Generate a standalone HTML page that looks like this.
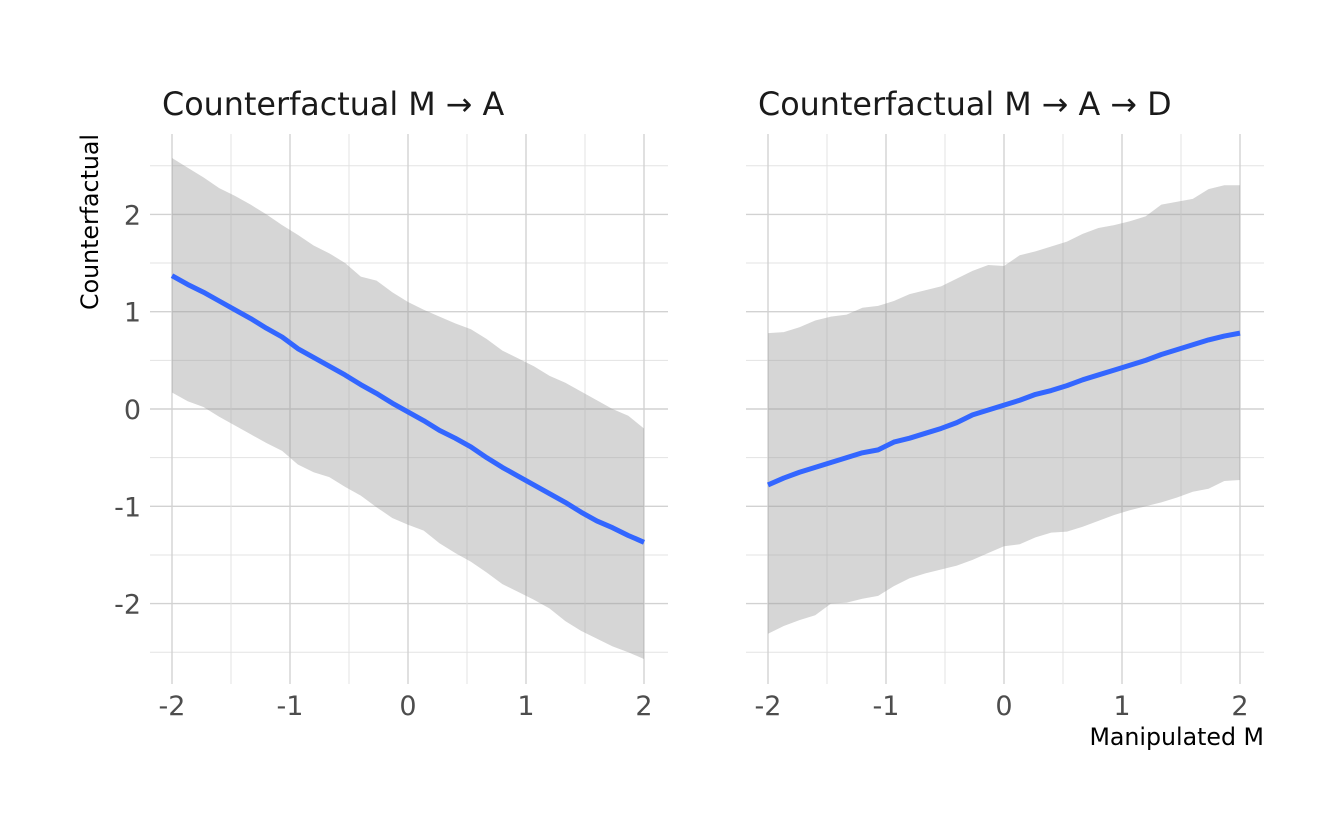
<!DOCTYPE html>
<html><head><meta charset="utf-8"><style>
body{margin:0;background:#fff;}
svg text{font-family:"DejaVu Sans","Liberation Sans",sans-serif;}
</style></head><body>
<svg id="chart" width="1344" height="830" xmlns="http://www.w3.org/2000/svg">
<rect width="1344" height="830" fill="#fff"/>
<g id="panels"></g>
<text x="162" y="115" font-size="31.8" fill="#1a1a1a">Counterfactual M → A</text>
<text x="758" y="115" font-size="31.8" fill="#1a1a1a">Counterfactual M → A → D</text>
<text transform="translate(98,222) rotate(-90)" text-anchor="middle" font-size="23.7" fill="#000">Counterfactual</text>
<text x="1264" y="745" text-anchor="end" font-size="23.7" fill="#000">Manipulated M</text>
</svg>
<script>
const xTicks=[-2,-1,0,1,2];
const yTicks=[-2,-1,0,1,2];
const leftMean=[1.37,1.28,1.20,1.11,1.02,0.93,0.83,0.74,0.62,0.53,0.44,0.35,0.25,0.16,0.06,-0.03,-0.12,-0.22,-0.30,-0.39,-0.50,-0.60,-0.69,-0.78,-0.87,-0.96,-1.06,-1.15,-1.22,-1.30,-1.37];
const leftUpper=[2.58,2.48,2.38,2.27,2.19,2.10,2.00,1.89,1.79,1.68,1.60,1.50,1.36,1.32,1.20,1.10,1.02,0.95,0.88,0.82,0.72,0.60,0.52,0.44,0.34,0.27,0.18,0.09,0.00,-0.07,-0.20];
const leftLower=[0.17,0.08,0.02,-0.08,-0.17,-0.26,-0.35,-0.43,-0.57,-0.65,-0.70,-0.80,-0.89,-1.01,-1.12,-1.19,-1.25,-1.38,-1.48,-1.57,-1.68,-1.80,-1.88,-1.96,-2.05,-2.18,-2.28,-2.36,-2.44,-2.50,-2.57];
const rightMean=[-0.78,-0.71,-0.65,-0.60,-0.55,-0.50,-0.45,-0.42,-0.34,-0.30,-0.25,-0.20,-0.14,-0.06,-0.01,0.04,0.09,0.15,0.19,0.24,0.30,0.35,0.40,0.45,0.50,0.56,0.61,0.66,0.71,0.75,0.78];
const rightUpper=[0.78,0.79,0.84,0.91,0.95,0.97,1.04,1.06,1.11,1.18,1.22,1.26,1.34,1.42,1.48,1.47,1.58,1.62,1.67,1.72,1.80,1.86,1.89,1.93,1.98,2.10,2.13,2.16,2.26,2.30,2.30];
const rightLower=[-2.31,-2.23,-2.17,-2.12,-2.00,-1.99,-1.95,-1.92,-1.82,-1.74,-1.69,-1.65,-1.61,-1.55,-1.48,-1.41,-1.39,-1.32,-1.27,-1.26,-1.21,-1.15,-1.09,-1.04,-1.00,-0.96,-0.91,-0.85,-0.82,-0.74,-0.73];
const xMin=-2,xMax=2;

const NS="http://www.w3.org/2000/svg";
const root=document.getElementById('panels');
function el(t,a){const e=document.createElementNS(NS,t);for(const k in a)e.setAttribute(k,a[k]);return e;}
const yS=v=>409-v*97.3;
function panel(x0,pname,mean,up,lo,showY){
  const xS=v=>x0+(v+2)*118;
  const g=el('g',{});
  
  
  const L=x0-22,R=x0+496,T=134,B=684;
  for(let v=-2.5;v<=2.51;v+=0.5){const major=Math.abs(v-Math.round(v))<1e-6;
    const l=el('line',{x1:L,x2:R,y1:yS(v),y2:yS(v),stroke:major?'#d2d2d2':'#e3e3e3','stroke-width':major?1.4:1});
    g.appendChild(l);}
  for(let v=-2;v<=2.01;v+=0.5){const major=Math.abs(v-Math.round(v))<1e-6;
    const l=el('line',{y1:T,y2:B,x1:xS(v),x2:xS(v),stroke:major?'#d2d2d2':'#e3e3e3','stroke-width':major?1.4:1});
    g.appendChild(l);}
  const n=mean.length;const xs=mean.map((_,i)=>xMin+i*(xMax-xMin)/(n-1));
  let d='';xs.forEach((x,i)=>d+=(i?'L':'M')+xS(x)+','+yS(up[i]));
  for(let i=n-1;i>=0;i--)d+='L'+xS(xs[i])+','+yS(lo[i]);
  const rib=el('path',{d:d+'Z',fill:'#999','fill-opacity':0.4});
  g.appendChild(rib);
  const ln=el('polyline',{points:xs.map((x,i)=>xS(x)+','+yS(mean[i])).join(' '),fill:'none',stroke:'#3366ff','stroke-width':5,'stroke-linejoin':'round'});
  g.appendChild(ln);
  xTicks.forEach(v=>{const t=el('text',{x:xS(v),y:715,'text-anchor':'middle','font-size':27,fill:'#4d4d4d'});t.textContent=String(v);
    g.appendChild(t);});
  if(showY)yTicks.forEach(v=>{const t=el('text',{x:141,y:yS(v)+10,'text-anchor':'end','font-size':27,fill:'#4d4d4d'});t.textContent=String(v);
    g.appendChild(t);});
  root.appendChild(g);
}
panel(172,'left-panel',leftMean,leftUpper,leftLower,true);
panel(768,'right-panel',rightMean,rightUpper,rightLower,false);
</script>
</body></html>
